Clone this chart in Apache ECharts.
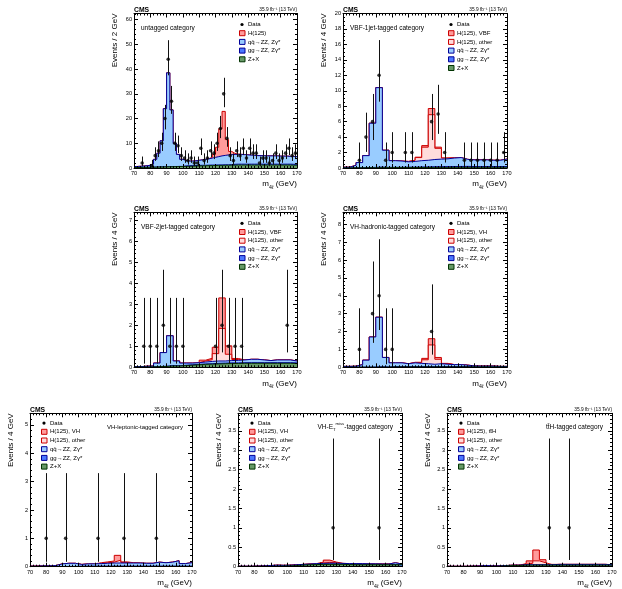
<!DOCTYPE html>
<html>
<head>
<meta charset="utf-8">
<script src="https://cdn.jsdelivr.net/npm/echarts@6/dist/echarts.min.js"></script>
<style>html,body{margin:0;padding:0;background:#fff}#c{width:622px;height:589px}</style>
</head>
<body>
<div id="c"></div>
<script>
// ---------------- DATA ----------------
const binCenters2 = [71,73,75,77,79,81,83,85,87,89,91,93,95,97,99,101,103,105,107,109,111,113,115,117,119,121,123,125,127,129,131,133,135,137,139,141,143,145,147,149,151,153,155,157,159,161,163,165,167,169];
const binCenters4 = [72,76,80,84,88,92,96,100,104,108,112,116,120,124,128,132,136,140,144,148,152,156,160,164,168];
const xTickLabels = [70,80,90,100,110,120,130,140,150,160,170];

// untagged category (2 GeV bins)
const untZX = [0.2,0.2,0.25,0.25,0.3,0.3,0.35,0.4,0.4,0.45,0.5,0.5,0.55,0.6,0.6,0.65,0.7,0.75,0.8,0.85,0.9,0.9,0.95,1.0,1.0,1.05,1.05,1.1,1.1,1.15,1.15,1.2,1.2,1.2,1.2,1.2,1.2,1.2,1.2,1.2,1.2,1.2,1.2,1.2,1.2,1.2,1.2,1.2,1.15,1.15];
const untGG = [0.05,0.05,0.05,0.05,0.05,0.05,0.05,0.05,0.05,0.05,0.05,0.05,0.05,0.05,0.05,0.2,0.2,0.2,0.2,0.2,0.2,0.2,0.2,0.2,0.2,0.2,0.2,0.2,0.2,0.2,0.35,0.35,0.35,0.35,0.35,0.35,0.35,0.35,0.35,0.35,0.35,0.35,0.35,0.35,0.35,0.35,0.35,0.35,0.35,0.35];
const untQQ = [0.35,0.45,0.5,0.6,0.75,1.25,3.1,5.55,10.55,23.5,37.95,22.95,9.4,4.85,2.85,2.15,1.9,1.85,1.9,2.05,2.2,2.4,2.55,2.8,3.1,3.35,3.65,3.8,4.0,4.05,4.0,3.95,3.95,3.85,3.75,3.65,3.55,3.45,3.45,3.45,3.35,3.35,3.35,3.35,3.25,3.25,3.25,3.15,3.2,3.1];
const untH = [0.02,0.02,0.02,0.02,0.02,0.02,0.02,0.02,0.02,0.02,0.02,0.02,0.02,0.02,0.02,0.02,0.02,0.02,0.02,0.02,0.02,0.02,0.1,0.3,1.2,3.8,11,17.8,6.2,1.3,0.4,0.15,0.03,0.03,0.03,0.03,0.03,0.03,0.03,0.03,0.03,0.03,0.03,0.03,0.03,0.03,0.03,0.03,0.03,0.03];
const untData = [0,0,2,0,0,1,5,7,10,20,44,27,10,9,5,4,3,4,2,2,8,3,4,7,6,10,16,30,12,5,3,7,5,8,4,8,6,6,2,4,4,2,3,6,3,4,6,8,5,6];

// VBF-1jet-tagged (4 GeV bins)
const vbf1ZX = [0.01,0.02,0.02,0.03,0.03,0.04,0.04,0.05,0.05,0.06,0.06,0.07,0.07,0.08,0.08,0.08,0.09,0.09,0.09,0.09,0.09,0.09,0.09,0.09,0.09];
const vbf1GG = [0.01,0.01,0.02,0.03,0.05,0.08,0.04,0.04,0.04,0.05,0.05,0.06,0.07,0.08,0.09,0.1,0.1,0.11,0.12,0.1,0.1,0.1,0.1,0.1,0.1];
const vbf1QQ = [0.08,0.32,0.66,1.54,5.72,10.28,2.22,0.86,0.81,0.69,0.74,0.82,0.86,0.94,0.98,1.01,1.1,1.15,0.91,0.86,0.86,0.86,0.81,0.81,0.96];
const vbf1HOther = [0,0,0,0,0,0,0,0,0,0.05,0.15,0.4,1.7,5.8,1.4,0.1,0.03,0,0,0,0,0,0,0,0];
const vbf1HVBF = [0,0,0,0,0,0,0,0,0,0,0,0.05,0.2,0.8,0.15,0,0,0,0,0,0,0,0,0,0];
const vbf1Data = [0,0,1,4,6,12,1,2,0,2,2,0,0,6,7,2,0,0,1,1,1,1,1,1,2];

// VBF-2jet-tagged
const vbf2ZX = [0.01,0.01,0.02,0.03,0.04,0.06,0.06,0.08,0.1,0.12,0.14,0.15,0.16,0.17,0.18,0.18,0.19,0.19,0.19,0.19,0.19,0.19,0.19,0.19,0.18];
const vbf2GG = [0.005,0.005,0.005,0.005,0.01,0.02,0.01,0.02,0.02,0.02,0.02,0.02,0.03,0.03,0.03,0.03,0.03,0.03,0.03,0.03,0.03,0.03,0.03,0.03,0.03];
const vbf2QQ = [0.015,0.035,0.035,0.165,0.65,1.42,0.23,0.1,0.08,0.08,0.09,0.11,0.11,0.1,0.11,0.12,0.13,0.16,0.16,0.13,0.1,0.13,0.13,0.13,0.09];
const vbf2HOther = [0,0,0,0,0,0,0,0,0,0,0.05,0.08,0.35,1.55,0.3,0.04,0,0,0,0,0,0,0,0,0];
const vbf2HVBF = [0,0,0,0,0,0,0,0,0,0,0.04,0.07,0.3,1.45,0.4,0.05,0,0,0,0,0,0,0,0,0];
const vbf2Data = [0,1,1,1,2,1,1,1,0,0,0,0,1,2,1,1,1,0,0,0,0,0,0,2,0];

// VH-hadronic-tagged
const vhhZX = [0.005,0.005,0.005,0.005,0.005,0.01,0.01,0.02,0.02,0.02,0.02,0.02,0.02,0.02,0.02,0.02,0.02,0.02,0.02,0.02,0.02,0.02,0.02,0.02,0.02];
const vhhGG = [0.005,0.005,0.005,0.005,0.01,0.02,0.01,0.02,0.02,0.02,0.02,0.02,0.02,0.02,0.02,0.02,0.02,0.02,0.02,0.01,0.01,0.01,0.01,0.01,0.01];
const vhhQQ = [0.04,0.05,0.14,0.39,1.68,2.77,0.53,0.21,0.21,0.16,0.21,0.18,0.16,0.13,0.16,0.13,0.11,0.11,0.08,0.05,0.04,0.04,0.04,0.02,0.02];
const vhhHOther = [0,0,0,0,0,0,0,0,0,0,0.02,0.04,0.22,1.08,0.25,0.04,0,0,0,0,0,0,0,0,0];
const vhhHVH = [0,0,0,0,0,0,0,0,0,0,0.01,0.02,0.08,0.35,0.1,0.01,0,0,0,0,0,0,0,0,0];
const vhhData = [0,0,1,0,3,4,1,1,0,0,0,0,0,2,0,0,0,0,0,0,0,0,0,0,0];

// VH-leptonic-tagged
const vhlZX = [0.005,0.005,0.005,0.005,0.005,0.005,0.005,0.01,0.01,0.01,0.01,0.01,0.01,0.01,0.01,0.01,0.01,0.01,0.01,0.01,0.01,0.01,0.01,0.01,0.01];
const vhlGG = [0.003,0.003,0.003,0.003,0.003,0.003,0.003,0.01,0.01,0.01,0.01,0.01,0.01,0.01,0.01,0.01,0.01,0.01,0.01,0.01,0.01,0.01,0.01,0.01,0.01];
const vhlQQ = [0.012,0.022,0.022,0.032,0.092,0.112,0.112,0.06,0.08,0.08,0.09,0.1,0.11,0.11,0.11,0.11,0.11,0.1,0.1,0.14,0.12,0.14,0.19,0.09,0.12];
const vhlHOther = [0,0,0,0,0,0,0,0,0,0,0,0.02,0.03,0.1,0.02,0,0,0,0,0,0,0,0,0,0];
const vhlHVH = [0,0,0,0,0,0,0,0,0,0,0.03,0.03,0.04,0.17,0.02,0.01,0,0,0,0,0,0,0,0,0];
const vhlData = [0,0,1,0,0,1,0,0,0,0,1,0,0,0,1,0,0,0,0,1,0,0,0,0,0];

// VH-MET-tagged
const vhmZX = [0.005,0.005,0.005,0.005,0.005,0.01,0.015,0.02,0.03,0.04,0.05,0.055,0.06,0.06,0.06,0.06,0.055,0.05,0.05,0.05,0.05,0.05,0.05,0.05,0.05];
const vhmGG = [0.005,0.005,0.005,0.005,0.005,0.005,0.005,0.005,0.005,0.005,0.005,0.005,0.005,0.005,0.005,0.005,0.005,0.005,0.005,0.005,0.005,0.005,0.005,0.005,0.005];
const vhmQQ = [0,0,0.005,0.01,0.02,0.025,0.015,0.015,0.015,0.015,0.015,0.02,0.02,0.025,0.025,0.02,0.02,0.025,0.025,0.02,0.02,0.015,0.015,0.045,0.015];
const vhmHOther = [0,0,0,0,0,0,0,0,0,0,0,0,0.01,0.02,0.01,0,0,0,0,0,0,0,0,0,0];
const vhmHVH = [0,0,0,0,0,0,0,0,0,0,0,0,0.02,0.06,0.02,0,0,0,0,0,0,0,0,0,0];
const vhmData = [0,0,0,0,0,0,0,0,0,0,0,0,0,0,1,0,0,0,0,0,0,1,0,0,0];

// ttH-tagged
const tthZX = [0.005,0.005,0.005,0.005,0.005,0.005,0.005,0.01,0.02,0.03,0.03,0.04,0.04,0.04,0.04,0.04,0.04,0.04,0.04,0.04,0.04,0.04,0.04,0.04,0.04];
const tthGG = [0.002,0.002,0.002,0.002,0.002,0.002,0.002,0.002,0.002,0.002,0.002,0.002,0.002,0.002,0.002,0.002,0.002,0.002,0.002,0.002,0.002,0.002,0.002,0.002,0.002];
const tthQQ = [0.003,0.003,0.003,0.008,0.013,0.023,0.013,0.008,0.008,0.008,0.008,0.008,0.008,0.008,0.008,0.008,0.018,0.018,0.018,0.018,0.018,0.018,0.018,0.018,0.008];
const tthHOther = [0,0,0,0,0,0,0,0,0,0,0,0.01,0.04,0.1,0.05,0,0,0,0,0,0,0,0,0,0];
const tthHTTH = [0,0,0,0,0,0,0,0,0,0,0,0.02,0.06,0.28,0.08,0.01,0,0,0,0,0,0,0,0,0];
const tthData = [0,0,0,0,0,0,0,0,0,0,0,0,0,0,0,1,0,0,1,0,0,0,0,0,0];

// Poisson (Garwood 68%) intervals for observed counts [low, high]
const poissonInterval = {
  1:[0.173,3.300], 2:[0.708,4.638], 3:[1.367,5.918], 4:[2.086,7.163], 5:[2.840,8.382],
  6:[3.620,9.584], 7:[4.419,10.77], 8:[5.232,11.95], 9:[6.057,13.11], 10:[6.891,14.27],
  12:[8.585,16.56], 16:[12.08,21.08], 20:[15.62,25.54], 27:[21.9,33.2], 30:[24.6,36.5], 44:[37.5,51.7]
};

// ---------------- STYLE / LAYOUT ----------------
const FONT = "'Liberation Sans', Arial, Helvetica, sans-serif";
const C = {
  zx: {fill:'#669966', line:'#003300', label:'Z+X'},
  gg: {fill:'#4b78ff', line:'#000099', label:'gg\u2192ZZ, Z\u03b3*'},
  qq: {fill:'#99ccff', line:'#000099', label:'qq\u0304\u2192ZZ, Z\u03b3*'},
  hOther: {fill:'#ffdcdc', line:'#cc0000', label:'H(125), other'},
  hSig: {fill:'#ff9b9b', line:'#cc0000'}
};

const panels = [
  {centers:binCenters2, bw:2, zx:untZX, gg:untGG, qq:untQQ, hOther:null, hSig:untH, data:untData,
   yMax:62.5, yInt:10, yMinor:5, showMax:false, ytitle:'Events / 2 GeV', cat:'untagged category', sigLabel:'H(125)',
   g:{left:134, top:13.5, width:163, height:154.5}, layout:'A'},
  {centers:binCenters4, bw:4, zx:vbf1ZX, gg:vbf1GG, qq:vbf1QQ, hOther:vbf1HOther, hSig:vbf1HVBF, data:vbf1Data,
   yMax:20, yInt:2, yMinor:4, showMax:true, ytitle:'Events / 4 GeV', cat:'VBF-1jet-tagged category', sigLabel:'H(125), VBF',
   g:{left:343, top:13.5, width:164, height:154.5}, layout:'A'},
  {centers:binCenters4, bw:4, zx:vbf2ZX, gg:vbf2GG, qq:vbf2QQ, hOther:vbf2HOther, hSig:vbf2HVBF, data:vbf2Data,
   yMax:7.37, yInt:1, yMinor:5, showMax:false, ytitle:'Events / 4 GeV', cat:'VBF-2jet-tagged category', sigLabel:'H(125), VBF',
   g:{left:134, top:212.3, width:163, height:155}, layout:'A'},
  {centers:binCenters4, bw:4, zx:vhhZX, gg:vhhGG, qq:vhhQQ, hOther:vhhHOther, hSig:vhhHVH, data:vhhData,
   yMax:8.67, yInt:1, yMinor:5, showMax:false, ytitle:'Events / 4 GeV', cat:'VH-hadronic-tagged category', sigLabel:'H(125), VH',
   g:{left:343, top:212.3, width:164, height:155}, layout:'A'},
  {centers:binCenters4, bw:4, zx:vhlZX, gg:vhlGG, qq:vhlQQ, hOther:vhlHOther, hSig:vhlHVH, data:vhlData,
   yMax:5.41, yInt:1, yMinor:5, showMax:false, ytitle:'Events / 4 GeV', cat:'VH-leptonic-tagged category', sigLabel:'H(125), VH',
   g:{left:30, top:413.3, width:162, height:153.4}, layout:'B'},
  {centers:binCenters4, bw:4, zx:vhmZX, gg:vhmGG, qq:vhmQQ, hOther:vhmHOther, hSig:vhmHVH, data:vhmData,
   yMax:3.95, yInt:0.5, yMinor:5, showMax:false, ytitle:'Events / 4 GeV', cat:'{n|VH-E}{s|T}{p|miss}{n|-tagged category}', sigLabel:'H(125), VH',
   g:{left:238, top:413.3, width:164, height:153.4}, layout:'B'},
  {centers:binCenters4, bw:4, zx:tthZX, gg:tthGG, qq:tthQQ, hOther:tthHOther, hSig:tthHTTH, data:tthData,
   yMax:3.95, yInt:0.5, yMinor:5, showMax:false, ytitle:'Events / 4 GeV', cat:'{n|tt\u0304H-tagged category}', sigLabel:'H(125), tt\u0304H',
   g:{left:447, top:413.3, width:165, height:153.4}, layout:'B'}
];

const grids = [], xAxes = [], yAxes = [], series = [], graphics = [];

function txt(x, y, text, style, extra) {
  const st = Object.assign({text: text, fill:'#000', fontFamily:FONT, fontSize:6,
    align:'left', verticalAlign:'middle', textAlign:'left', textVerticalAlign:'middle'}, style || {});
  return Object.assign({type:'text', x:x, y:y, silent:true, z:100, style:st}, extra || {});
}

panels.forEach(function (p, i) {
  const g = p.g;
  grids.push({left:g.left, top:g.top, width:g.width, height:g.height, show:false, containLabel:false, outerBoundsMode:'none'});
  const axLine = {show:true, onZero:false, lineStyle:{color:'#000', width:1}};
  const tick = {show:true, inside:true, length:4, lineStyle:{color:'#000', width:1}};
  const minor = function (n) { return {show:true, splitNumber:n, length:2, lineStyle:{color:'#000', width:1}}; };
  const lab = {show:true, color:'#000', fontFamily:FONT, fontSize:5.6};
  xAxes.push({gridIndex:i, type:'value', min:70, max:170, interval:10, position:'bottom', z:20,
    axisLine:axLine, axisTick:tick, minorTick:minor(5), splitLine:{show:false}, minorSplitLine:{show:false},
    axisLabel:Object.assign({margin:2.5, showMinLabel:true, showMaxLabel:true,
      formatter:function (v) { return xTickLabels.indexOf(v) >= 0 ? String(v) : ''; }}, lab)});
  xAxes.push({gridIndex:i, type:'value', min:70, max:170, interval:10, position:'top', z:20,
    axisLine:axLine, axisTick:tick, minorTick:minor(5), splitLine:{show:false}, axisLabel:{show:false}});
  yAxes.push({gridIndex:i, type:'value', min:0, max:p.yMax, interval:p.yInt, position:'left', z:20,
    axisLine:axLine, axisTick:tick, minorTick:minor(p.yMinor), splitLine:{show:false},
    axisLabel:Object.assign({margin:2, showMinLabel:true, showMaxLabel:p.showMax}, lab)});
  yAxes.push({gridIndex:i, type:'value', min:0, max:p.yMax, interval:p.yInt, position:'right', z:20,
    axisLine:axLine, axisTick:tick, minorTick:minor(p.yMinor), splitLine:{show:false}, axisLabel:{show:false}});

  const xi = 2 * i, yi = 2 * i;
  const edges = p.centers.map(function (c) { return c - p.bw / 2; }).concat([170]);
  // stack layers bottom -> top; each drawn as its cumulative total filled down to 0,
  // lower layers drawn above higher ones (same as a ROOT THStack)
  const layers = [{vals:p.zx, st:C.zx}, {vals:p.gg, st:C.gg}, {vals:p.qq, st:C.qq}];
  if (p.hOther) layers.push({vals:p.hOther, st:C.hOther});
  layers.push({vals:p.hSig, st:C.hSig});
  let cum = p.zx.map(function () { return 0; });
  layers.forEach(function (L, li) {
    cum = cum.map(function (c, k) { return c + L.vals[k]; });
    const cumVals = cum.slice();
    const data = edges.map(function (e, k) { return [e, cumVals[Math.min(k, cumVals.length - 1)]]; });
    series.push({type:'line', xAxisIndex:xi, yAxisIndex:yi, step:'end',
      symbol:'none', showSymbol:false, silent:true, animation:false, z:2 + (layers.length - li),
      lineStyle:{color:L.st.line, width:1}, areaStyle:{color:L.st.fill, opacity:1, origin:'start'},
      data:data});
  });

  const pts = [], errs = [];
  p.data.forEach(function (n, k) {
    if (n > 0) {
      pts.push([p.centers[k], n]);
      const e = poissonInterval[n];
      errs.push([p.centers[k], e[0], e[1]]);
    }
  });
  series.push({type:'custom', xAxisIndex:xi, yAxisIndex:yi, z:10, silent:true, animation:false, clip:true,
    data:errs, encode:{x:0, y:[1, 2]},
    renderItem:function (params, api) {
      const a = api.coord([api.value(0), api.value(1)]);
      const b = api.coord([api.value(0), api.value(2)]);
      const x = Math.round(a[0]) + 0.5;
      return {type:'line', shape:{x1:x, y1:a[1], x2:x, y2:b[1]}, style:{stroke:'#111', lineWidth:1}};
    }});
  series.push({type:'scatter', xAxisIndex:xi, yAxisIndex:yi, z:11, silent:true, animation:false,
    symbol:'circle', symbolSize:3.6, itemStyle:{color:'#000'}, data:pts});

  // ----- texts -----
  const right = g.left + g.width, bottom = g.top + g.height;
  graphics.push(txt(g.left, g.top - 3.5, 'CMS', {fontSize:6.8, fontWeight:'bold'}));
  graphics.push(txt(right, g.top - 3.5, '35.9 fb\u207b\u00b9 (13 TeV)', {fontSize:4.8, align:'right', textAlign:'right'}));
  graphics.push(txt(g.left - 19.5, g.top, p.ytitle, {fontSize:8, align:'right', textAlign:'right'}, {rotation:Math.PI / 2}));
  graphics.push(txt(right, bottom + 16, '{n|m}{s|4\u2113}{n| (GeV)}',
    {align:'right', textAlign:'right', rich:{n:{fontSize:8, lineHeight:12, verticalAlign:'middle', fontFamily:FONT},
      s:{fontSize:5.2, lineHeight:12, verticalAlign:'bottom', fontFamily:FONT}}}));

  const catRich = {n:{fontSize:6.5, lineHeight:10, verticalAlign:'middle', fontFamily:FONT},
    s:{fontSize:4.2, lineHeight:10, verticalAlign:'bottom', fontFamily:FONT},
    p:{fontSize:4.2, lineHeight:10, verticalAlign:'top', fontFamily:FONT}};
  let bx, ry0;
  if (p.layout === 'A') {
    graphics.push(txt(g.left + 7, g.top + 15, p.cat, {fontSize:6.5}));
    bx = g.left + 105; ry0 = g.top + 11;
  } else {
    graphics.push(txt(right - 9, g.top + 14, p.cat, {align:'right', textAlign:'right', rich:catRich}));
    bx = g.left + 11; ry0 = g.top + 9.8;
  }
  const entries = [{label:'Data', dot:true}, {label:p.sigLabel, st:C.hSig}];
  if (p.hOther) entries.push({label:C.hOther.label, st:C.hOther});
  entries.push({label:C.qq.label, st:C.qq}, {label:C.gg.label, st:C.gg}, {label:C.zx.label, st:C.zx});
  entries.forEach(function (en, k) {
    const ry = ry0 + k * 8.7;
    if (en.dot) {
      graphics.push({type:'circle', silent:true, z:100, shape:{cx:bx + 3, cy:ry, r:1.6}, style:{fill:'#000'}});
    } else {
      graphics.push({type:'rect', silent:true, z:100, shape:{x:bx + 0.5, y:ry - 2.5, width:5.5, height:5},
        style:{fill:en.st.fill, stroke:en.st.line, lineWidth:1}});
    }
    graphics.push(txt(bx + 9, ry, en.label, {fontSize:6}));
  });
});

const chart = echarts.init(document.getElementById('c'), null, {renderer:'canvas'});
chart.setOption({
  animation:false,
  backgroundColor:'#ffffff',
  grid:grids, xAxis:xAxes, yAxis:yAxes, series:series,
  graphic:{elements:graphics}
});
</script>
</body>
</html>
